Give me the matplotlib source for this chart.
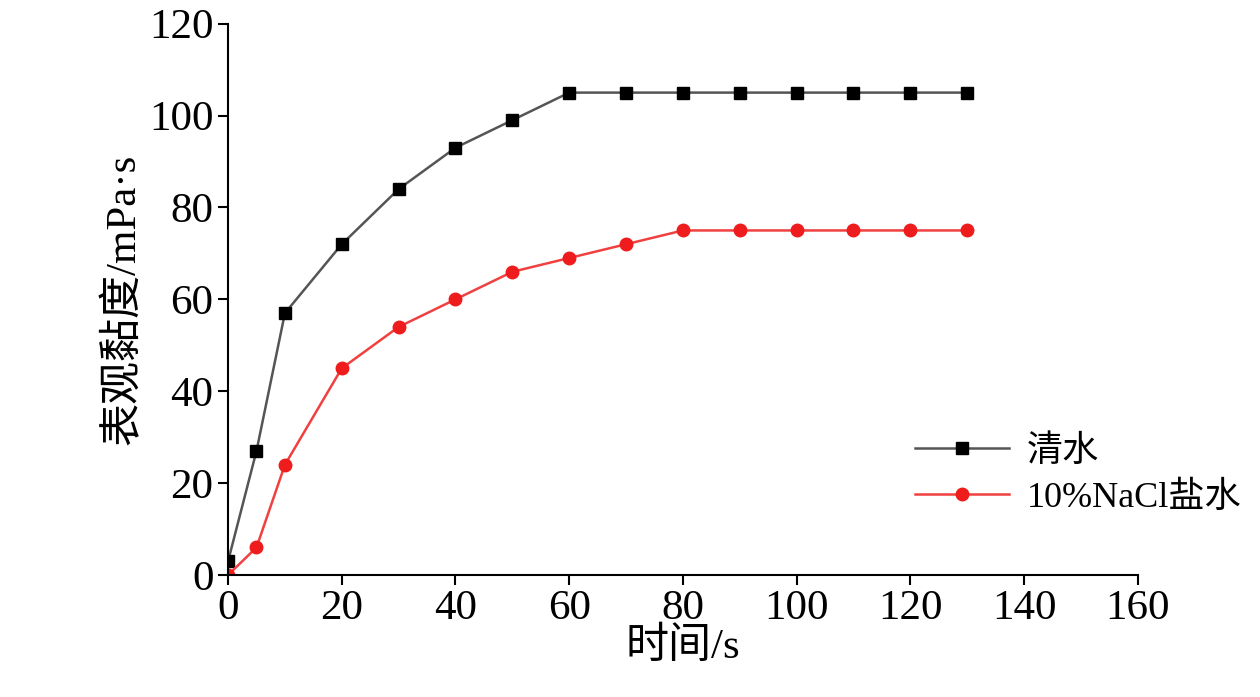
import matplotlib.pyplot as plt

plt.rcParams['font.family'] = ['Liberation Serif', 'Noto Sans CJK SC']

# ── Data ─────────────────────────────────────────────────────────────────────
t = [0, 5, 10, 20, 30, 40, 50, 60, 70, 80, 90, 100, 110, 120, 130]
water = [3, 27, 57, 72, 84, 93, 99, 105, 105, 105, 105, 105, 105, 105, 105]
brine = [0, 6, 24, 45, 54, 60, 66, 69, 72, 75, 75, 75, 75, 75, 75]

fig = plt.figure(figsize=(12.6, 6.97), dpi=100)
ax = fig.add_axes([0.181, 0.175, 0.722, 0.791])

ax.plot(t, water, "s-", color="#555555", mfc="black", mec="black", ms=8, lw=1.8, label="清水")
ax.plot(t, brine, "o-", color="#f04040", mfc="#ee1c1c", mec="#ee1c1c", ms=9, lw=1.8, label="10%NaCl盐水")

ax.set_xlim(0, 160)
ax.set_ylim(0, 120)
ax.set_xticks(range(0, 161, 20))
ax.set_yticks(range(0, 121, 20))
for s in ["top", "right"]:
    ax.spines[s].set_visible(False)
ax.spines["left"].set_linewidth(1.5)
ax.spines["bottom"].set_linewidth(1.5)
ax.tick_params(labelsize=31, width=1.5, length=7, direction="out")
ax.set_xlabel("时间/s", fontsize=31, labelpad=0)
ax.set_ylabel("表观黏度/mPa·s", fontsize=31, labelpad=4)

ax.legend(loc="lower right", bbox_to_anchor=(1.15, 0.05), frameon=False, fontsize=26,
          handlelength=2.6, handletextpad=0.5, labelspacing=0.35)

plt.savefig("out.png", dpi=100)
